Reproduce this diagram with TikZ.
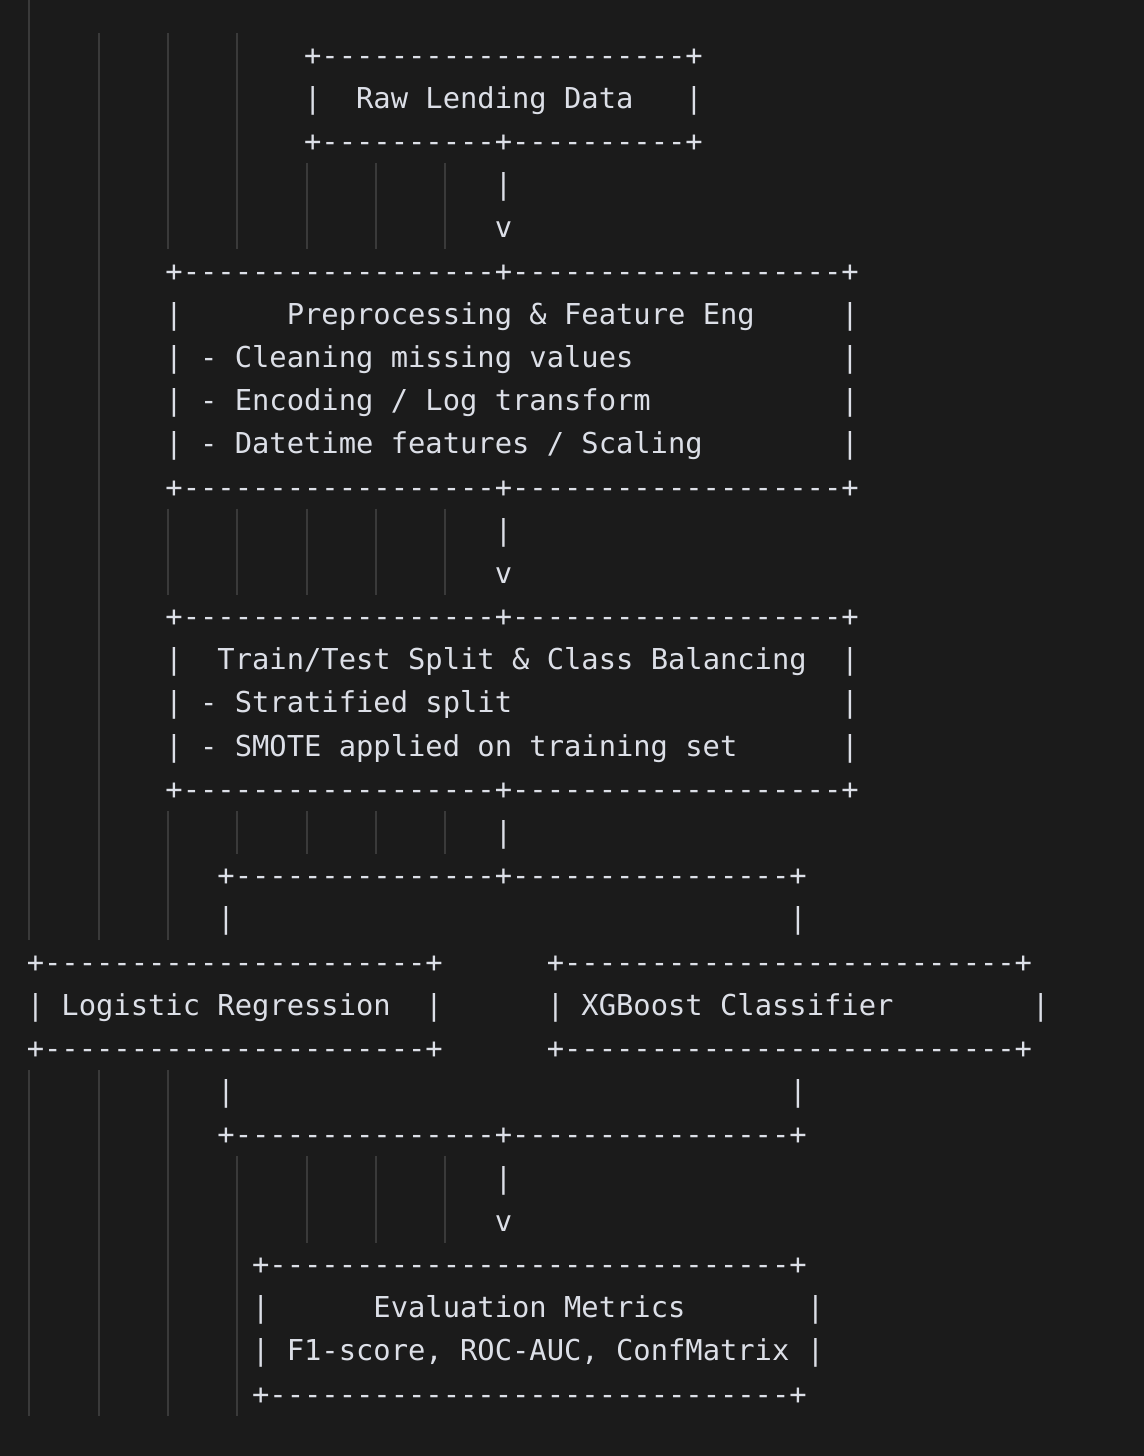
\documentclass[tikz,border=0pt]{standalone}
\usepackage{fontspec}
\setmonofont{DejaVu Sans Mono}
\definecolor{bg}{RGB}{27,27,27}
\definecolor{fg}{RGB}{220,223,231}
\definecolor{guide}{RGB}{58,58,58}
\newcommand\dashrun[1]{\ifnum#1>0 -\expandafter\dashrun\expandafter{\the\numexpr#1-1\relax}\fi}
\newcommand\T[4]{\node[txt] (#1) at ({26.8+17.333*#3},{65.1+43.19*#2}) {#4};}
\newcommand\G[3]{\draw[guideline] ({29.3+69.333*#1},#2) -- ({29.3+69.333*#1},#3);}
\begin{document}
\begin{tikzpicture}[x=0.5pt,y=-0.5pt,
  txt/.style={anchor=base west,inner sep=0pt,outer sep=0pt,text=fg,
    font=\ttfamily\fontsize{14.395pt}{17pt}\selectfont\frenchspacing},
  guideline/.style={draw=guide,line width=0.9pt}]
\fill[bg] (0,0) rectangle (1144,1456);
\useasboundingbox (0,0) rectangle (1144,1456);
% indent guides
\G{0}{0}{940.4} \G{0}{1070}{1415.5}
\G{1}{33.4}{940.4} \G{1}{1070}{1415.5}
\G{2}{33.4}{249.4} \G{2}{508.5}{594.9} \G{2}{810.8}{940.4} \G{2}{1070}{1415.5}
\G{3}{33.4}{249.4} \G{3}{508.5}{594.9} \G{3}{810.8}{854} \G{3}{1156.3}{1415.5}
\foreach \k in {4,5,6}{\G{\k}{163}{249.4} \G{\k}{508.5}{594.9} \G{\k}{810.8}{854} \G{\k}{1156.3}{1242.7}}
% raw data box
\T{l0a}{0}{16}{+\dashrun{21}+}
\T{l1a}{1}{16}{|}
\T{l1b}{1}{19}{Raw Lending Data}
\T{l1c}{1}{38}{|}
\T{l2a}{2}{16}{+\dashrun{10}+\dashrun{10}+}
\T{l3a}{3}{27}{|}
\T{l4a}{4}{27}{v}
% preprocessing box
\T{l5a}{5}{8}{+\dashrun{18}+\dashrun{19}+}
\T{l6a}{6}{8}{|}
\T{l6b}{6}{15}{Preprocessing \& Feature Eng}
\T{l6c}{6}{47}{|}
\T{l7a}{7}{8}{| - Cleaning missing values}
\T{l7b}{7}{47}{|}
\T{l8a}{8}{8}{| - Encoding / Log transform}
\T{l8b}{8}{47}{|}
\T{l9a}{9}{8}{| - Datetime features / Scaling}
\T{l9b}{9}{47}{|}
\T{l10a}{10}{8}{+\dashrun{18}+\dashrun{19}+}
\T{l11a}{11}{27}{|}
\T{l12a}{12}{27}{v}
% split box
\T{l13a}{13}{8}{+\dashrun{18}+\dashrun{19}+}
\T{l14a}{14}{8}{|}
\T{l14b}{14}{11}{Train/Test Split \& Class Balancing}
\T{l14c}{14}{47}{|}
\T{l15a}{15}{8}{| - Stratified split}
\T{l15b}{15}{47}{|}
\T{l16a}{16}{8}{| - SMOTE applied on training set}
\T{l16b}{16}{47}{|}
\T{l17a}{17}{8}{+\dashrun{18}+\dashrun{19}+}
\T{l18a}{18}{27}{|}
% branch
\T{l19a}{19}{11}{+\dashrun{15}+\dashrun{16}+}
\T{l20a}{20}{11}{|}
\T{l20b}{20}{44}{|}
% model boxes
\T{l21a}{21}{0}{+\dashrun{22}+}
\T{l21b}{21}{30}{+\dashrun{26}+}
\T{l22a}{22}{0}{| Logistic Regression}
\T{l22b}{22}{23}{|}
\T{l22c}{22}{30}{| XGBoost Classifier}
\T{l22d}{22}{58}{|}
\T{l23a}{23}{0}{+\dashrun{22}+}
\T{l23b}{23}{30}{+\dashrun{26}+}
% merge
\T{l24a}{24}{11}{|}
\T{l24b}{24}{44}{|}
\T{l25a}{25}{11}{+\dashrun{15}+\dashrun{16}+}
\T{l26a}{26}{27}{|}
\T{l27a}{27}{27}{v}
% evaluation box
\T{l28a}{28}{13}{+\dashrun{30}+}
\T{l29a}{29}{13}{|}
\T{l29b}{29}{20}{Evaluation Metrics}
\T{l29c}{29}{45}{|}
\T{l30a}{30}{13}{| F1-score, ROC-AUC, ConfMatrix}
\T{l30b}{30}{45}{|}
\T{l31a}{31}{13}{+\dashrun{30}+}
\end{tikzpicture}
\end{document}
